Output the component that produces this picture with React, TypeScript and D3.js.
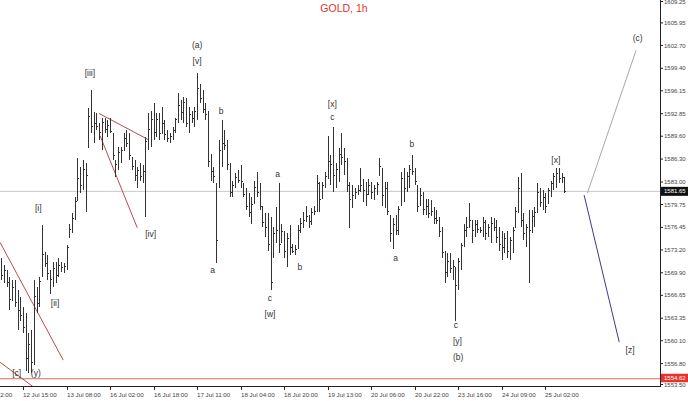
import React from "react";
import * as d3 from "d3";

// ---------- data ----------
const opens = [
  1571.0,1569.5,1570.2,1568.5,1566.0,1567.8,1565.6,1564.5,1563.8,1562.0,
  1557.5,1559.5,1557.0,1566.5,1565.5,1569.3,1572.5,1571.2,1569.8,1569.0,
  1570.5,1569.5,1571.0,1570.6,1570.8,1575.0,1576.2,1577.8,1580.4,1583.5,
  1582.5,1584.8,1588.0,1592.5,1591.0,1591.5,1591.0,1590.2,1591.6,1590.6,
  1591.2,1590.0,1586.1,1585.5,1587.2,1587.6,1589.3,1588.6,1586.6,1585.3,
  1584.0,1584.6,1583.8,1584.5,1588.8,1590.5,1592.0,1590.2,1592.0,1590.0,
  1591.5,1589.8,1589.3,1589.5,1590.4,1592.0,1594.0,1593.0,1594.5,1591.5,
  1592.8,1592.2,1593.2,1596.5,1595.0,1593.5,1592.8,1586.0,1584.5,1582.8,
  1582.2,1587.5,1588.5,1588.2,1585.5,1581.5,1582.5,1583.6,1583.2,1582.8,
  1581.2,1579.5,1578.6,1579.9,1582.2,1581.5,1579.4,1577.2,1576.5,1574.0,
  1572.1,1575.5,1576.0,1574.2,1575.8,1573.0,1574.8,1573.5,1573.0,1573.4,
  1576.0,1577.0,1577.5,1578.0,1577.3,1578.6,1578.8,1582.8,1580.6,1582.5,
  1583.8,1586.0,1585.5,1584.0,1584.8,1587.0,1586.5,1586.0,1582.5,1580.5,
  1581.0,1581.5,1581.8,1582.5,1581.8,1581.2,1582.5,1581.5,1582.0,1584.0,
  1585.0,1581.0,1582.0,1578.2,1575.5,1576.8,1576.0,1579.6,1583.5,1582.0,
  1583.8,1584.8,1584.5,1582.5,1579.6,1581.0,1579.0,1579.5,1578.5,1578.8,
  1577.8,1577.5,1575.8,1572.8,1570.0,1571.5,1570.5,1570.7,1568.0,1571.5,
  1573.8,1576.0,1576.5,1577.5,1576.0,1576.8,1576.2,1576.0,1577.2,1575.5,
  1576.5,1577.0,1576.5,1575.0,1574.0,1573.5,1574.8,1573.0,1574.5,1576.5,
  1578.8,1582.0,1577.5,1575.5,1576.5,1576.0,1578.0,1578.6,1581.5,1580.0,
  1580.8,1579.9,1581.8,1582.8,1583.8,1584.2,1583.5,1583.6,
];
const highs = [
  1572.1,1571.0,1570.3,1569.3,1568.8,1568.8,1567.4,1566.4,1564.9,1564.1,
  1561.2,1561.6,1568.8,1567.8,1569.3,1576.8,1572.9,1572.4,1570.3,1571.4,
  1571.4,1572.1,1571.4,1571.3,1573.9,1577.0,1578.5,1580.8,1586.4,1585.1,
  1586.1,1585.7,1593.6,1596.2,1593.1,1592.9,1591.5,1592.2,1592.3,1591.9,
  1592.2,1590.0,1586.1,1588.0,1588.0,1590.0,1590.5,1590.0,1586.6,1586.1,
  1585.1,1585.7,1585.4,1589.5,1592.9,1593.3,1594.4,1592.9,1592.9,1593.8,
  1591.9,1590.5,1590.0,1590.9,1592.3,1595.8,1594.8,1595.2,1595.1,1593.8,
  1593.3,1593.8,1598.7,1597.2,1596.2,1594.4,1593.3,1587.1,1585.1,1582.8,
  1589.0,1591.9,1590.5,1589.0,1585.7,1583.2,1584.3,1584.7,1585.4,1582.8,
  1582.2,1581.4,1580.8,1583.2,1584.4,1582.8,1579.4,1578.5,1578.5,1577.9,
  1576.5,1579.4,1582.8,1577.0,1576.0,1575.6,1576.8,1574.0,1573.9,1576.8,
  1577.8,1578.6,1579.6,1578.2,1579.2,1579.6,1584.0,1583.0,1583.0,1584.4,
  1589.7,1586.9,1590.9,1585.8,1587.9,1590.0,1587.9,1586.4,1583.0,1582.5,
  1582.1,1582.5,1585.0,1583.5,1583.0,1583.5,1583.0,1582.5,1583.0,1586.4,
  1585.0,1583.0,1583.0,1578.2,1577.8,1578.2,1579.6,1584.4,1585.0,1584.4,
  1585.4,1586.9,1585.0,1582.5,1582.1,1581.5,1580.6,1580.6,1580.4,1579.4,
  1578.9,1577.9,1576.5,1573.1,1572.7,1572.7,1571.7,1570.7,1572.1,1574.2,
  1577.0,1577.9,1579.9,1577.5,1577.5,1577.5,1576.5,1577.9,1577.5,1577.0,
  1577.9,1577.8,1577.5,1576.5,1576.0,1575.6,1576.0,1575.0,1576.5,1579.4,
  1583.7,1584.3,1578.5,1577.0,1578.9,1578.9,1579.4,1582.8,1582.2,1581.8,
  1581.4,1582.2,1583.2,1584.3,1585.0,1585.0,1584.3,1583.7,
];
const lows = [
  1568.8,1568.4,1567.8,1564.5,1565.9,1564.9,1561.6,1563.0,1561.2,1555.8,
  1555.4,1555.4,1556.6,1564.1,1564.9,1569.3,1570.7,1568.8,1566.9,1567.8,
  1568.4,1569.3,1570.0,1569.8,1570.3,1575.0,1575.6,1577.5,1580.4,1581.4,
  1581.8,1578.6,1588.0,1590.0,1588.6,1590.5,1589.0,1587.6,1590.0,1589.5,
  1590.0,1586.1,1583.7,1584.7,1585.7,1587.6,1588.0,1586.1,1584.7,1583.2,
  1582.2,1583.2,1582.8,1577.9,1587.6,1588.0,1589.0,1589.5,1589.0,1590.0,
  1589.0,1588.7,1588.6,1589.0,1590.0,1591.5,1591.9,1591.5,1590.9,1590.0,
  1591.5,1590.9,1591.9,1594.4,1592.9,1591.9,1585.1,1583.2,1582.8,1571.3,
  1582.2,1585.1,1587.6,1584.7,1580.8,1580.8,1582.2,1582.8,1582.2,1580.8,
  1578.9,1577.9,1577.0,1579.9,1580.8,1578.9,1576.5,1575.0,1573.1,1567.4,
  1572.1,1574.2,1572.7,1574.2,1572.1,1570.7,1572.4,1572.7,1572.4,1573.4,
  1575.7,1576.3,1577.2,1576.3,1576.8,1578.2,1578.6,1578.6,1580.6,1582.1,
  1583.5,1582.5,1581.5,1582.1,1583.0,1585.4,1584.0,1581.5,1576.3,1579.2,
  1580.6,1581.1,1581.5,1580.1,1579.6,1581.1,1580.6,1580.4,1581.1,1584.0,
  1579.6,1579.2,1578.2,1574.3,1573.4,1575.3,1575.3,1579.6,1580.1,1581.5,
  1582.1,1584.0,1582.5,1578.6,1579.6,1578.2,1578.2,1577.8,1578.1,1577.0,
  1577.0,1575.0,1572.1,1568.4,1569.3,1569.8,1568.8,1563.0,1567.4,1570.3,
  1573.6,1575.0,1576.5,1574.2,1575.0,1575.6,1575.6,1575.0,1574.6,1575.0,
  1574.2,1576.0,1574.2,1573.1,1571.7,1572.7,1572.1,1571.7,1572.7,1576.5,
  1578.5,1576.5,1574.6,1573.6,1568.4,1575.6,1576.5,1578.5,1579.4,1578.9,
  1578.5,1579.9,1580.8,1581.8,1582.2,1582.8,1582.8,1581.4,
];
const closes = [
  1569.5,1570.2,1568.5,1566.0,1567.8,1565.6,1564.5,1563.8,1562.0,1557.5,
  1559.5,1557.0,1566.5,1565.5,1568.6,1572.5,1571.2,1569.8,1569.0,1570.5,
  1569.5,1571.0,1570.6,1570.8,1573.5,1576.2,1577.8,1580.2,1583.5,1582.5,
  1584.8,1584.0,1592.5,1591.0,1591.5,1591.0,1590.2,1591.6,1590.6,1591.2,
  1590.3,1586.8,1585.5,1587.2,1587.5,1589.3,1588.6,1586.8,1585.3,1584.0,
  1584.6,1583.8,1584.5,1588.8,1590.5,1592.0,1590.2,1592.0,1590.0,1591.5,
  1589.8,1589.3,1589.5,1590.4,1592.0,1594.0,1593.0,1594.5,1591.5,1592.8,
  1592.2,1593.2,1596.5,1595.0,1593.5,1592.8,1586.0,1584.5,1583.8,1574.5,
  1587.5,1588.5,1588.2,1585.5,1581.5,1582.5,1583.6,1583.2,1583.0,1581.2,
  1579.5,1578.6,1579.8,1582.2,1581.5,1579.5,1577.2,1576.5,1574.0,1568.5,
  1575.5,1576.0,1574.0,1575.8,1573.0,1574.8,1573.5,1573.0,1573.2,1576.0,
  1577.0,1577.5,1578.0,1577.3,1578.6,1578.8,1582.8,1580.5,1582.5,1583.8,
  1586.0,1585.5,1584.0,1584.8,1587.0,1586.5,1586.0,1582.5,1580.5,1581.0,
  1581.5,1581.8,1582.5,1581.8,1581.2,1582.5,1581.5,1582.0,1582.6,1585.2,
  1581.0,1582.0,1578.8,1575.5,1576.8,1576.0,1579.0,1583.5,1582.0,1583.8,
  1584.8,1584.5,1583.0,1579.5,1581.0,1579.0,1579.5,1578.5,1578.8,1577.8,
  1577.5,1575.8,1572.8,1570.0,1571.5,1570.5,1570.8,1568.0,1571.5,1573.8,
  1576.0,1576.5,1577.5,1576.0,1576.8,1576.2,1576.0,1577.2,1575.5,1576.5,
  1577.0,1576.5,1575.0,1574.0,1573.5,1574.8,1573.0,1574.5,1576.0,1578.8,
  1582.0,1577.5,1575.5,1576.5,1576.0,1578.0,1578.6,1581.5,1580.0,1580.8,
  1579.5,1581.8,1582.8,1583.8,1584.2,1583.5,1583.6,1581.65,
];

const priceTicks = [
  1609.25, 1605.95, 1602.7, 1599.4, 1596.15, 1592.85, 1589.6, 1586.3, 1583.0,
  1579.75, 1576.45, 1573.2, 1569.9, 1566.65, 1563.35, 1560.1, 1556.8, 1553.5,
];
const timeTickBars = [-8, 8, 24, 40, 56, 72, 88, 104, 120, 136, 152, 168, 184, 200];
const timeTickLabels = [
  "11 Jul 22:00", "12 Jul 15:00", "13 Jul 08:00", "16 Jul 02:00", "16 Jul 18:00",
  "17 Jul 11:00", "18 Jul 04:00", "18 Jul 20:00", "19 Jul 13:00", "20 Jul 06:00",
  "20 Jul 22:00", "23 Jul 16:00", "24 Jul 09:00", "25 Jul 02:00",
];
const currentPrice = 1581.65;
const levelPrice = 1554.62;

const waveLabels = [
  { text: "(a)", bar: 72, price: 1602.7 },
  { text: "[v]", bar: 72, price: 1600.4 },
  { text: "[iii]", bar: 32.6, price: 1598.7 },
  { text: "[i]", bar: 13.6, price: 1579.2 },
  { text: "[ii]", bar: 19.8, price: 1565.5 },
  { text: "[iv]", bar: 54.9, price: 1575.5 },
  { text: "[c]", bar: 5.7, price: 1555.4 },
  { text: "(y)", bar: 12.7, price: 1555.4 },
  { text: "a", bar: 77.7, price: 1570.3 },
  { text: "b", bar: 80.8, price: 1593.2 },
  { text: "a", bar: 101.6, price: 1584.1 },
  { text: "c", bar: 98.8, price: 1566.2 },
  { text: "[w]", bar: 98.8, price: 1564.0 },
  { text: "b", bar: 109.8, price: 1570.7 },
  { text: "[x]", bar: 121.7, price: 1594.2 },
  { text: "c", bar: 121.7, price: 1592.3 },
  { text: "a", bar: 145, price: 1572.1 },
  { text: "b", bar: 151, price: 1588.5 },
  { text: "c", bar: 167.1, price: 1562.4 },
  { text: "[y]", bar: 167.7, price: 1560.1 },
  { text: "(b)", bar: 168, price: 1557.7 },
  { text: "[x]", bar: 203.9, price: 1586.1 },
  { text: "(c)", bar: 234, price: 1603.8 },
  { text: "[z]", bar: 231.2, price: 1558.8 },
];

// trend lines: [bar1, price1, bar2, price2]
const channelLines = [
  [-0.46, 1574.3, 22.8, 1557.3],
  [-0.46, 1557.0, 11.8, 1553.45],
  [35.9, 1592.9, 54.1, 1589.1],
  [36.3, 1589.7, 50.0, 1576.4],
];
const bullishProjection = [215.5, 1581.4, 233.4, 1602.0];
const bearishProjection = [214.3, 1581.1, 227.2, 1559.9];

// ---------- chart ----------
const W = 688;
const H = 401;
const PR = 660;
const PB = 386.5;
const FONT = "'Liberation Sans', Arial, sans-serif";

export default function App() {
  const lastBar = highs.length - 1;
  const x = d3.scaleLinear().domain([0, lastBar]).range([1.24, 1.24 + lastBar * 2.72]);
  const y = d3.scaleLinear().domain([1553.5, 1609.25]).range([PB, 0]);
  const bars = d3.range(highs.length);
  const line = d3.line<[number, number]>().x((d) => x(d[0])).y((d) => y(d[1]));
  const seg = (s: number[]) => line([[s[0], s[1]], [s[2], s[3]]]) || "";

  return (
    <div style={{ position: "absolute", left: 0, top: 0 }}>
      <svg width={W} height={H} style={{ display: "block", background: "#fff" }}>
        <defs>
          <clipPath id="plot">
            <rect x={0} y={0} width={PR} height={PB} />
          </clipPath>
        </defs>
        <text x={344} y={12} textAnchor="middle" fontFamily={FONT} fontSize={10.5} fill="#e0352b">
          GOLD, 1h
        </text>
        <g clipPath="url(#plot)">
          <line x1={0} x2={PR} y1={y(currentPrice)} y2={y(currentPrice)} stroke="#c8c8c8" strokeWidth={1} />
          <line x1={0} x2={PR} y1={y(levelPrice)} y2={y(levelPrice)} stroke="#d0705e" strokeWidth={1} />
          {channelLines.map((s, i) => (
            <path key={"ch" + i} d={seg(s)} stroke="#b5504a" strokeWidth={1} fill="none" />
          ))}
          <path d={seg(bullishProjection)} stroke="#a8a8a8" strokeWidth={1} fill="none" />
          <path d={seg(bearishProjection)} stroke="#3b3b8a" strokeWidth={1} fill="none" />
          <g stroke="#333" strokeWidth={1} shapeRendering="crispEdges">
            {bars.map((k) => {
              const cx = Math.round(x(k)) + 0.5;
              return (
                <g key={k}>
                  <line x1={cx} x2={cx} y1={y(highs[k])} y2={y(lows[k])} />
                  <line x1={cx - 1} x2={cx} y1={y(opens[k])} y2={y(opens[k])} />
                  <line x1={cx} x2={cx + 1.5} y1={y(closes[k])} y2={y(closes[k])} />
                </g>
              );
            })}
          </g>
          <g fontFamily={FONT} fontSize={8.5} fill="#333333" textAnchor="middle">
            {waveLabels.map((l, i) => (
              <text key={"w" + i} x={x(l.bar)} y={y(l.price)} dy="0.35em">
                {l.text}
              </text>
            ))}
          </g>
        </g>
        {/* frame */}
        <line x1={0} x2={PR} y1={PB} y2={PB} stroke="#222" strokeWidth={1} />
        <line x1={PR + 0.5} x2={PR + 0.5} y1={0} y2={PB + 0.5} stroke="#222" strokeWidth={1} />
        {/* price axis */}
        <g fontFamily={FONT} fontSize={6} fill="#444">
          {priceTicks.map((v, i) => {
            const ty = Math.min(Math.max(y(v), 1.5), 384.5);
            return (
              <g key={"p" + i}>
                <line x1={PR} x2={PR + 3} y1={ty} y2={ty} stroke="#222" strokeWidth={1} />
                <text x={PR + 4} y={ty} dy="0.35em">
                  {v.toFixed(2)}
                </text>
              </g>
            );
          })}
        </g>
        <rect x={PR + 1} y={y(currentPrice) - 4.5} width={W - PR - 1} height={9} fill="#111" />
        <text x={PR + 4} y={y(currentPrice)} dy="0.35em" fontFamily={FONT} fontSize={6} fill="#fff">
          {currentPrice.toFixed(2)}
        </text>
        <rect x={PR + 1} y={y(levelPrice) - 5} width={W - PR - 1} height={8.5} fill="#e8322c" />
        <text x={PR + 4} y={y(levelPrice) - 0.8} dy="0.35em" fontFamily={FONT} fontSize={6} fill="#fff">
          {levelPrice.toFixed(2)}
        </text>
        {/* time axis */}
        <g fontFamily={FONT} fontSize={6.2} fill="#444">
          {timeTickBars.map((b, i) => {
            const tx = Math.round(x(b)) + 0.5;
            return (
              <g key={"t" + i}>
                <line x1={tx} x2={tx} y1={PB} y2={PB + 3.5} stroke="#222" strokeWidth={1} />
                <text x={tx - 0.5} y={396.5}>
                  {timeTickLabels[i]}
                </text>
              </g>
            );
          })}
        </g>
      </svg>
    </div>
  );
}
